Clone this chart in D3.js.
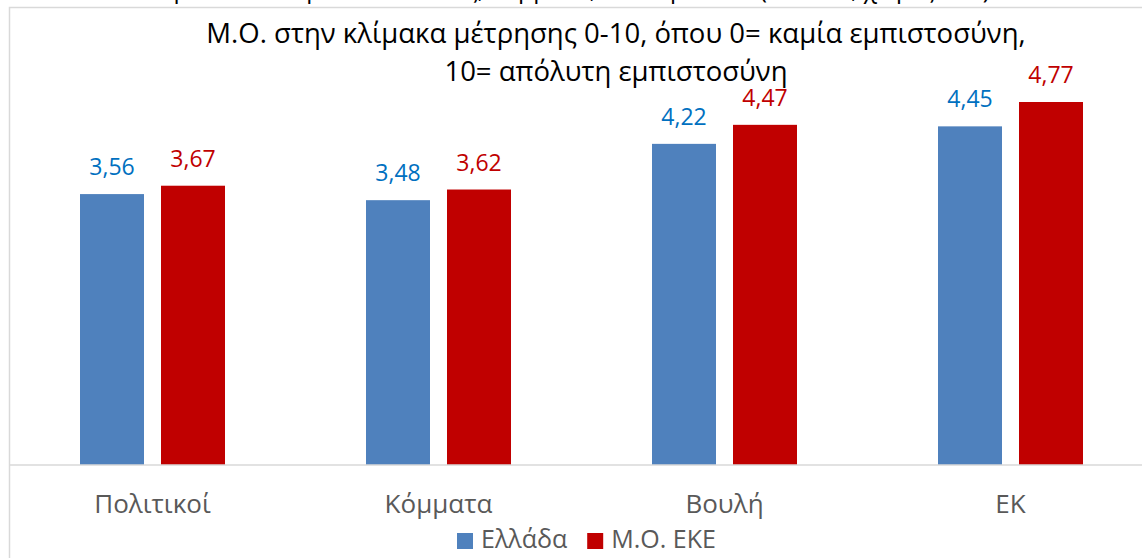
<!DOCTYPE html>
<html>
<head>
<meta charset="utf-8">
<script src="https://cdn.jsdelivr.net/npm/d3@7"></script>
<style>
  body { margin: 0; background: #fff; }
  svg { display: block; font-family: "Open Sans", sans-serif; }
</style>
</head>
<body>
<div id="chart"></div>
<script>
// data
const categories = ["Πολιτικοί", "Κόμματα", "Βουλή", "ΕΚ"];
const seriesNames = ["Ελλάδα", "Μ.Ο. ΕΚΕ"];
const greece = [3.56, 3.48, 4.22, 4.45];
const euAvg = [3.67, 3.62, 4.47, 4.77];
const titleLines = [
	"Μ.Ο. στην κλίμακα μέτρησης 0-10, όπου 0= καμία εμπιστοσύνη,",
	"10= απόλυτη εμπιστοσύνη"
];
// the line above the frame is cut off in the picture, only descenders show
const cutTitle = "Εμπιστοσύνη σε πολιτικούς, κόμματα, Βουλή και ΕΚ (Ελλάδα, χώρες ΕΚΕ)";

const W = 1142, H = 558;
const barColors = ["#4F81BD", "#C00000"];
const labelColors = ["#0070C0", "#C00000"];

const svg = d3.select("#chart").append("svg")
	.attr("width", W)
	.attr("height", H);

// chart frame
svg.append("rect")
	.attr("x", 9.5).attr("y", 7.5)
	.attr("width", 1200).attr("height", 600)
	.attr("fill", "none")
	.attr("stroke", "#D9D9D9")
	.attr("stroke-width", 1.5);

svg.append("text")
	.attr("x", 160).attr("y", -2)
	.attr("textLength", 830)
	.attr("lengthAdjust", "spacingAndGlyphs")
	.style("font-size", "26px")
	.attr("fill", "#000")
	.text(cutTitle);

// title
svg.selectAll(".title")
	.data(titleLines)
	.join("text")
	.attr("class", "title")
	.attr("x", 616)
	.attr("y", (d, i) => 43 + i * 38)
	.attr("text-anchor", "middle")
	.attr("fill", "#000")
	.style("font-size", "27.5px")
	.text(d => d);

// scales
const x = d3.scaleBand().domain(categories).range([9.5, 1153.5]).padding(0);
const xs = d3.scaleBand().domain(seriesNames)
	.range([x.bandwidth() * 0.2465, x.bandwidth() * 0.7535])
	.paddingInner(0.21);
const y = d3.scaleLinear().domain([0, 6]).range([465, 8.4]);

const data = categories.map((c, i) => ({ cat: c, vals: [greece[i], euAvg[i]] }));

const groups = svg.append("g").selectAll("g")
	.data(data)
	.join("g")
	.attr("transform", d => `translate(${x(d.cat)},0)`);

groups.selectAll("rect")
	.data(d => d.vals.map((v, k) => ({ k: k, v: v })))
	.join("rect")
	.attr("x", d => xs(seriesNames[d.k]))
	.attr("y", d => y(d.v))
	.attr("width", xs.bandwidth())
	.attr("height", d => y(0) - y(d.v))
	.attr("fill", d => barColors[d.k]);

groups.selectAll("text")
	.data(d => d.vals.map((v, k) => ({ k: k, v: v })))
	.join("text")
	.attr("x", d => xs(seriesNames[d.k]) + xs.bandwidth() / 2)
	.attr("y", d => y(d.v) - 19)
	.attr("text-anchor", "middle")
	.attr("fill", d => labelColors[d.k])
	.style("font-size", "23px")
	.text(d => d.v.toFixed(2).replace(".", ","));

// category axis
const xAxis = svg.append("g")
	.attr("transform", `translate(0,${y(0)})`)
	.call(d3.axisBottom(x).tickSize(0).tickPadding(0));
xAxis.select(".domain").attr("stroke", "#D9D9D9").attr("stroke-width", 1.5)
	.attr("d", "M9.5,0H1160");
xAxis.selectAll("text")
	.attr("dy", null)
	.attr("y", 48)
	.attr("fill", "#595959")
	.style("font-size", "26px")
	.style("font-family", "Open Sans, sans-serif");

// legend
const legend = svg.append("g").attr("transform", "translate(457,533)");
let lx = 0;
seriesNames.forEach((name, i) => {
	legend.append("rect")
		.attr("x", lx).attr("y", 0)
		.attr("width", 16).attr("height", 16)
		.attr("fill", barColors[i]);
	const t = legend.append("text")
		.attr("x", lx + 24).attr("y", 15)
		.attr("fill", "#595959")
		.style("font-size", "25px")
		.text(name);
	lx += 24 + t.node().getComputedTextLength() + 20;
});
</script>
</body>
</html>
